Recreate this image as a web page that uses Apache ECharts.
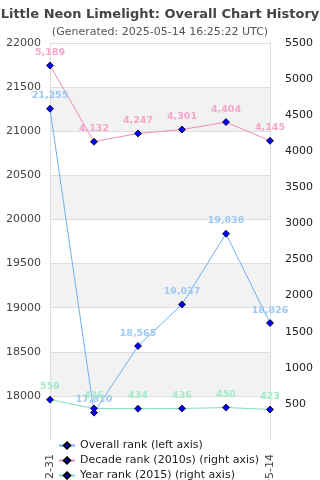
<!DOCTYPE html>
<html>
<head>
<meta charset="utf-8">
<script src="https://cdn.jsdelivr.net/npm/echarts@6/dist/echarts.min.js"></script>
<style>
  html, body { margin: 0; padding: 0; background: #fff; }
  #main { width: 320px; height: 480px; }
</style>
</head>
<body>
<div id="main"></div>
<script>
// chart data
const dates = ['2015-12-31', '2016-12-31', '2017-12-31', '2018-12-31', '2019-12-31', '2025-05-14'];
const overallRank = [21255, 17810, 18565, 19037, 19838, 18826];
const decadeRank = [5189, 4132, 4247, 4301, 4404, 4145];
const yearRank = [559, 436, 434, 436, 450, 423];

const chart = echarts.init(document.getElementById('main'), null, { renderer: 'canvas' });

function fmt(p) {
  return p.value.toLocaleString('en-US');
}

function plain(v) {
  return String(v);
}

function lineSeries(name, data, yIdx, lineColor, labelColor) {
  return {
    name: name,
    type: 'line',
    yAxisIndex: yIdx,
    data: data,
    symbol: 'diamond',
    symbolSize: 7,
    clip: false,
    itemStyle: { color: '#0000ff', borderColor: '#000', borderWidth: 0.8 },
    lineStyle: { color: lineColor, width: 1 },
    label: {
      show: true,
      position: 'top',
      distance: 4,
      color: labelColor,
      fontSize: 9.5,
      fontWeight: 'bold',
      fontFamily: 'DejaVu Sans',
      formatter: fmt
    },
    animation: false
  };
}

chart.setOption({
  animation: false,
  title: {
    text: 'Little Neon Limelight: Overall Chart History',
    subtext: '(Generated: 2025-05-14 16:25:22 UTC)',
    left: 'center',
    top: 3,
    itemGap: 6,
    textStyle: { fontSize: 13, fontWeight: 'bold', color: '#444', fontFamily: 'DejaVu Sans' },
    subtextStyle: { fontSize: 11, color: '#555', fontFamily: 'DejaVu Sans' }
  },
  legend: {
    orient: 'vertical',
    left: 53,
    top: 435,
    height: 80,
    itemWidth: 16,
    itemHeight: 8,
    itemGap: 4,
    textStyle: { fontSize: 11, color: '#222', fontFamily: 'DejaVu Sans' },
    data: ['Overall rank (left axis)', 'Decade rank (2010s) (right axis)', 'Year rank (2015) (right axis)']
  },
  grid: { left: 50, right: 50, top: 43, bottom: 40, outerBoundsMode: 'none', containLabel: false },
  xAxis: {
    type: 'category',
    data: dates,
    boundaryGap: false,
    axisLine: { show: false },
    axisTick: { show: false },
    splitLine: { show: true, lineStyle: { color: '#ddd' } },
    axisLabel: {
      rotate: 90,
      margin: 14,
      fontSize: 11,
      color: '#444',
      fontFamily: 'DejaVu Sans',
      interval: function (i) { return i === 0 || i === dates.length - 1; }
    }
  },
  yAxis: [
    {
      type: 'value',
      min: 17500,
      max: 22000,
      interval: 500,
      axisLine: { show: true, lineStyle: { color: '#ddd' } },
      axisTick: { show: false },
      axisLabel: { showMinLabel: false, margin: 9, fontSize: 11, color: '#444', fontFamily: 'DejaVu Sans', formatter: plain },
      splitLine: { show: true, showMinLine: false, lineStyle: { color: '#ddd' } },
      splitArea: { show: true, areaStyle: { color: ['#fff', '#f2f2f2'] } }
    },
    {
      type: 'value',
      min: 0,
      max: 5500,
      interval: 500,
      axisLine: { show: true, lineStyle: { color: '#ddd' } },
      axisTick: { show: false },
      axisLabel: { showMinLabel: false, margin: 15, fontSize: 11, color: '#222', fontFamily: 'DejaVu Sans', formatter: plain },
      splitLine: { show: false }
    }
  ],
  series: [
    lineSeries('Overall rank (left axis)', overallRank, 0, '#6fb1f2', '#9dc9f4'),
    lineSeries('Decade rank (2010s) (right axis)', decadeRank, 1, '#f08cbf', '#f5a6ca'),
    lineSeries('Year rank (2015) (right axis)', yearRank, 1, '#7fdfb2', '#a3ebc8')
  ]
});
</script>
</body>
</html>
